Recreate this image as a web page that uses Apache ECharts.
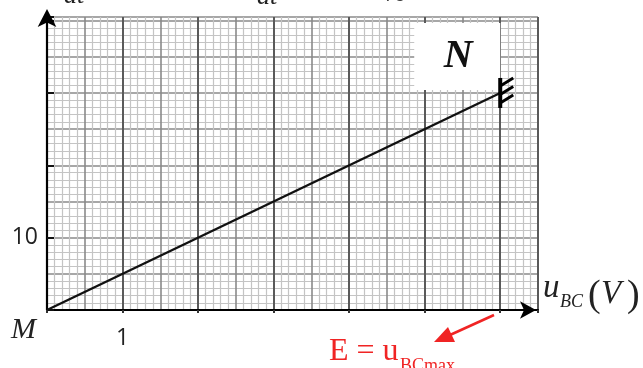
<!DOCTYPE html>
<html>
<head>
<meta charset="utf-8">
<script src="https://cdn.jsdelivr.net/npm/echarts@6/dist/echarts.min.js"></script>
<style>
  html, body { margin: 0; padding: 0; background: #fff; }
  #chart { width: 643px; height: 368px; }
</style>
</head>
<body>
<div id="chart"></div>
<script>
  // u_BC (V) against the vertical quantity, straight line from M
  var uBC = [0, 6];
  var yVal = [0, 30];
  var xTickLabels = ['1'];
  var yTickLabels = ['10'];

  var serif = '"Liberation Serif", "DejaVu Serif", serif';
  var sans = '"Open Sans", "Noto Sans", sans-serif';

  var lineData = uBC.map(function (u, i) { return [u, yVal[i]]; });

  var chart = echarts.init(document.getElementById('chart'));

  var minorGrid = { show: true, lineStyle: { color: '#c4c4c4', width: 1.2 } };

  chart.setOption({
    animation: false,
    grid: { left: 47, right: 105, top: 17, bottom: 58 },
    xAxis: [{
      type: 'value', min: 0, max: 6.5, interval: 0.5,
      axisLine: { show: true, lineStyle: { color: '#000', width: 2.2 }, symbol: ['none', 'arrow'], symbolSize: [13, 16], symbolOffset: [0, -2] },
      axisTick: { show: false },
      axisLabel: { show: false },
      splitLine: { show: true, lineStyle: { color: '#8a8a8a', width: 1.6 } },
      minorTick: { show: false, splitNumber: 5 },
      minorSplitLine: minorGrid
    }, {
      type: 'value', min: 0, max: 6.5, interval: 1, position: 'bottom',
      axisLine: { show: false },
      axisTick: { show: true, length: 3, lineStyle: { color: '#333', width: 2 } },
      axisLabel: {
        show: true, margin: 17, fontSize: 23, fontFamily: sans, color: '#222',
        formatter: function (v) { return xTickLabels.indexOf(String(v)) >= 0 ? String(v) : ''; }
      },
      splitLine: { show: true, lineStyle: { color: '#5a5a5a', width: 2 } }
    }],
    yAxis: [{
      type: 'value', min: 0, max: 40.5, interval: 5,
      axisLine: { show: true, lineStyle: { color: '#000', width: 2.2 }, symbol: ['none', 'arrow'], symbolSize: [14, 18], symbolOffset: [0, 8] },
      axisTick: { show: false },
      axisLabel: { show: false },
      splitLine: { show: true, lineStyle: { color: '#8a8a8a', width: 1.6 } },
      minorTick: { show: false, splitNumber: 5 },
      minorSplitLine: minorGrid
    }, {
      type: 'value', min: 0, max: 40.5, interval: 10, position: 'left',
      axisLine: { show: false },
      axisTick: { show: true, length: 7, inside: true, lineStyle: { color: '#111', width: 2 } },
      axisLabel: {
        show: true, margin: 9, fontSize: 23, fontFamily: sans, color: '#222',
        formatter: function (v) { return yTickLabels.indexOf(String(v)) >= 0 ? String(v) : ''; }
      },
      splitLine: { show: false }
    }],
    series: [{
      type: 'line',
      data: lineData,
      showSymbol: false,
      lineStyle: { color: '#111', width: 2.4 },
      z: 5
    }]
  });

  // decorations anchored on the end point of the line
  var p = chart.convertToPixel({ xAxisIndex: 0, yAxisIndex: 0 }, lineData[1]);
  var o = chart.convertToPixel({ xAxisIndex: 0, yAxisIndex: 0 }, [0, 0]);

  var hatch = [];
  for (var i = 0; i < 3; i++) {
    hatch.push({
      type: 'line', z: 11,
      shape: { x1: p[0], y1: p[1] - 7 + i * 8.5, x2: p[0] + 13, y2: p[1] - 15 + i * 8.5 },
      style: { stroke: '#000', lineWidth: 3 }
    });
  }

  chart.setOption({
    graphic: [
      { type: 'rect', shape: { x: p[0] - 86, y: p[1] - 70, width: 86, height: 67 }, style: { fill: '#fff' }, z: 10 },
      { type: 'text', x: p[0] - 42, y: p[1] - 36, z: 11,
        style: { text: 'N', font: 'italic bold 40px ' + serif, fill: '#111', align: 'center', verticalAlign: 'middle' } },
      { type: 'line', shape: { x1: p[0], y1: p[1] - 15, x2: p[0], y2: p[1] + 15 }, style: { stroke: '#000', lineWidth: 4 }, z: 11 }
    ].concat(hatch).concat([
      // origin and axis names
      { type: 'text', x: o[0] - 36, y: o[1] + 35, z: 11,
        style: { text: 'M', font: 'italic 30px ' + serif, fill: '#222', verticalAlign: 'bottom' } },
      { type: 'text', x: 543, y: 305, z: 11,
        style: { text: 'u', font: 'italic 33px ' + serif, fill: '#222', verticalAlign: 'bottom' } },
      { type: 'text', x: 560, y: 311, z: 11,
        style: { text: 'BC', font: 'italic 18px ' + serif, fill: '#222', verticalAlign: 'bottom' } },
      { type: 'text', x: 588, y: 315, z: 11,
        style: { text: '(', font: '38px ' + serif, fill: '#222', verticalAlign: 'bottom' } },
      { type: 'text', x: 601, y: 311, z: 11,
        style: { text: 'V', font: 'italic 33px ' + serif, fill: '#222', verticalAlign: 'bottom' } },
      { type: 'text', x: 627, y: 315, z: 11,
        style: { text: ')', font: '38px ' + serif, fill: '#222', verticalAlign: 'bottom' } },
      // red note
      { type: 'text', x: 329, y: 368, z: 11,
        style: { text: 'E = u', font: '32px ' + serif, fill: '#f02424', verticalAlign: 'bottom' } },
      { type: 'text', x: 400, y: 375, z: 11,
        style: { text: 'BCmax', font: '18px ' + serif, fill: '#f02424', verticalAlign: 'bottom' } },
      { type: 'line', shape: { x1: 494, y1: 315, x2: 450, y2: 335 }, style: { stroke: '#f02424', lineWidth: 2.5 }, z: 11 },
      { type: 'polygon', shape: { points: [[434, 342], [455, 342], [448, 327]] }, style: { fill: '#f02424' }, z: 11 },
      // cut-off text above the figure
      { type: 'text', x: 64, y: 9, style: { text: 'dt', font: 'italic 26px ' + serif, fill: '#222', verticalAlign: 'bottom' } },
      { type: 'text', x: 257, y: 10, style: { text: 'dt', font: 'italic 26px ' + serif, fill: '#222', verticalAlign: 'bottom' } },
      { type: 'text', x: 381, y: 6, style: { text: '10', font: '22px ' + sans, fill: '#444', verticalAlign: 'bottom' } }
    ])
  });
</script>
</body>
</html>
